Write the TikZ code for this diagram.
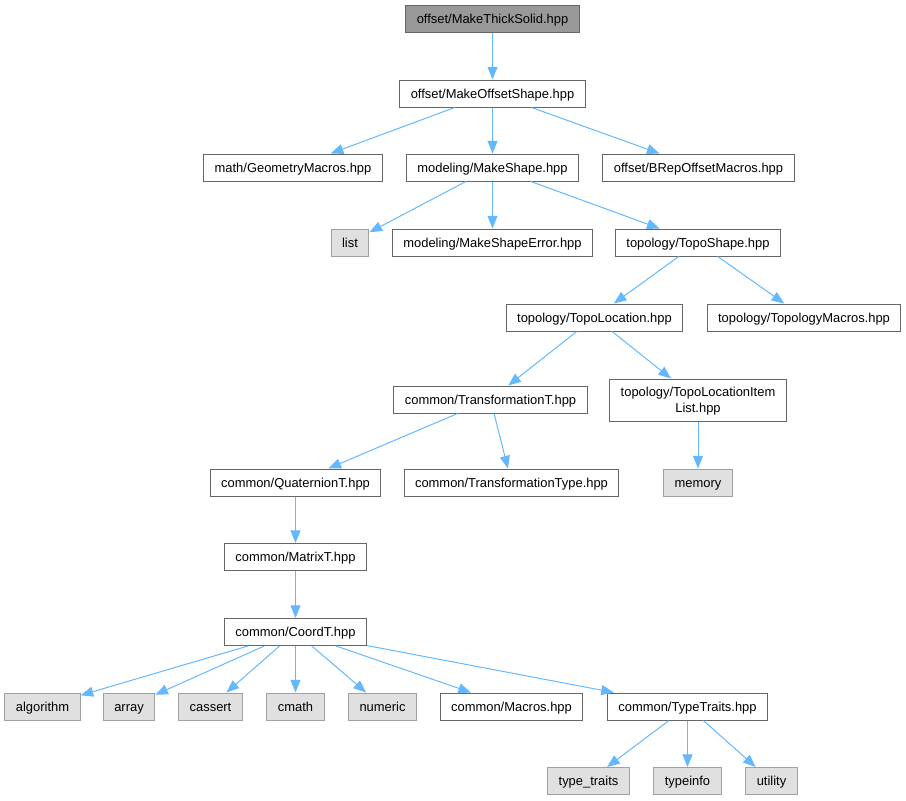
\documentclass[tikz,border=0pt]{standalone}
\usepackage{fontspec}
\setmainfont{Liberation Sans}
\usetikzlibrary{arrows.meta}
\definecolor{E}{RGB}{99, 184, 255}
\definecolor{Bd}{RGB}{102, 102, 102}
\definecolor{Bs}{RGB}{160, 160, 160}
\definecolor{Fs}{RGB}{224, 224, 224}
\definecolor{Fr}{RGB}{153, 153, 153}

\tikzset{
  file/.style={draw=Bd, fill=white, line width=0.75pt, inner xsep=8.25pt, inner ysep=0pt,
    minimum height=20.25pt, text height=7pt, text depth=0pt, font=\fontsize{9.7}{11.8}\selectfont},
  sys/.style={file, draw=Bs, fill=Fs},
  root/.style={file, fill=Fr},
  inc/.style={draw=E, line width=0.75pt, -{Triangle[length=9.5pt,width=7.5pt]}}
}

\begin{document}
\begin{tikzpicture}[x=0.75pt, y=-0.75pt]
   	\useasboundingbox (0,0) rectangle (906,800);

	%Archivo principal
   	\node[root] (thick) at (492.5,18.5) {offset/MakeThickSolid.hpp};
   	\node[file] (offset) at (492.5,93.5) {offset/MakeOffsetShape.hpp};

	%Tercera fila
   	\node[file] (geom) at (293,167.5) {math/GeometryMacros.hpp};
   	\node[file] (mkshape) at (492.5,167.5) {modeling/MakeShape.hpp};
   	\node[file] (brep) at (698.5,167.5) {offset/BRepOffsetMacros.hpp};

	%Cuarta fila
   	\node[sys] (list) at (350,242.5) {list};
   	\node[file] (mkerror) at (492.5,242.5) {modeling/MakeShapeError.hpp};
   	\node[file] (toposhape) at (698,242.5) {topology/TopoShape.hpp};

	%Topologia
   	\node[file] (topoloc) at (594.5,317.5) {topology/TopoLocation.hpp};
   	\node[file] (topomac) at (804,317.5) {topology/TopologyMacros.hpp};
   	\node[file] (transf) at (490.5,399.5) {common/TransformationT.hpp};
   	\node[file, minimum height=31.5pt, text height=18.8pt, align=center] (itemlist) at (698,400) {topology/TopoLocationItem\\List.hpp};

	%Quaternion, tipo y memory
   	\node[file] (quat) at (295.5,482.5) {common/QuaternionT.hpp};
   	\node[file] (ttype) at (511.5,482.5) {common/TransformationType.hpp};
   	\node[sys] (memory) at (698,482.5) {memory};

   	\node[file] (matrix) at (295.5,557) {common/MatrixT.hpp};
   	\node[file] (coord) at (295.5,632) {common/CoordT.hpp};

	%Fila de CoordT
   	\node[sys] (algorithm) at (42.5,706.5) {algorithm};
   	\node[sys] (array) at (129,706.5) {array};
   	\node[sys] (cassert) at (210.5,706.5) {cassert};
   	\node[sys] (cmath) at (295.5,706.5) {cmath};
   	\node[sys] (numeric) at (382.5,706.5) {numeric};
   	\node[file] (macros) at (511.5,706.5) {common/Macros.hpp};
   	\node[file] (traits) at (687.5,706.5) {common/TypeTraits.hpp};

	%Ultima fila
   	\node[sys] (typetraits) at (588.5,781) {type\_traits};
   	\node[sys] (typeinfo) at (687.5,781) {typeinfo};
   	\node[sys] (utility) at (771.5,781) {utility};

	%Flechas de include
   	\draw[inc] (thick) -- (offset);
   	\draw[inc] (offset) -- (geom);
   	\draw[inc] (offset) -- (mkshape);
   	\draw[inc] (offset) -- (brep);
   	\draw[inc] (mkshape) -- (list);
   	\draw[inc] (mkshape) -- (mkerror);
   	\draw[inc] (mkshape) -- (toposhape);
   	\draw[inc] (toposhape) -- (topoloc);
   	\draw[inc] (toposhape) -- (topomac);
   	\draw[inc] (topoloc) -- (transf);
   	\draw[inc] (topoloc) -- (itemlist);
   	\draw[inc] (transf) -- (quat);
   	\draw[inc] (transf) -- (ttype);
   	\draw[inc] (itemlist) -- (memory);
   	\draw[inc] (quat) -- (matrix);
   	\draw[inc] (matrix) -- (coord);

	%Flechas desde CoordT
   	\draw[inc] (coord) -- (algorithm);
   	\draw[inc] (coord) -- (array);
   	\draw[inc] (coord) -- (cassert);
   	\draw[inc] (coord) -- (cmath);
   	\draw[inc] (coord) -- (numeric);
   	\draw[inc] (coord) -- (macros);
   	\draw[inc] (coord) -- (traits);
   	\draw[inc] (traits) -- (typetraits);
   	\draw[inc] (traits) -- (typeinfo);
   	\draw[inc] (traits) -- (utility);
 \end{tikzpicture}
\end{document}
